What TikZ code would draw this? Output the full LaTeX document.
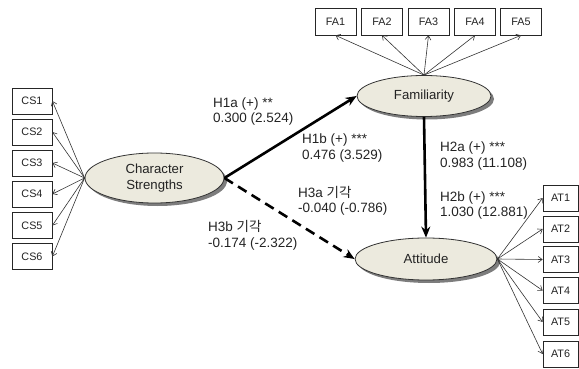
\documentclass[tikz,border=0pt]{standalone}
\usepackage{fontspec}
\setmainfont{Liberation Sans}
\newfontfamily\krfont{Noto Sans CJK KR}
\usetikzlibrary{shapes.geometric,shadows,arrows.meta}
\definecolor{efill}{RGB}{236,234,222}
\definecolor{tcol}{RGB}{35,35,35}
\begin{document}
\begin{tikzpicture}[x=1pt,y=-1pt,
  ind/.style={draw=black!85,line width=0.7pt,fill=white,minimum width=40pt,minimum height=26pt,inner sep=0pt,font=\fontsize{10.8}{12}\selectfont,text=tcol},
  lat/.style={ellipse,draw=black!80,line width=0.8pt,fill=efill,inner sep=0pt,align=center,
    font=\fontsize{13.2}{15.5}\selectfont,text=tcol,
    drop shadow={shadow xshift=3pt,shadow yshift=-3pt,fill=black!60,opacity=0.85}},
  thin/.style={draw=black!80,line width=0.6pt,-{Straight Barb[length=4pt,width=6pt]}},
  main/.style={line width=2.6pt,-{Stealth[length=11pt,width=9pt]}},
  lbl/.style={anchor=base west,inner sep=0pt,font=\fontsize{13.5}{15}\selectfont,text=tcol}]
\useasboundingbox (0,0) rectangle (579,369);
% indicators
\foreach \i/\y in {1/101,2/132,3/163,4/194,5/225.5,6/256.5}{
  \node[ind] (cs\i) at (32,\y) {CS\i};}
\foreach \i/\x in {1/335.5,2/382,3/428.5,4/475,5/521}{
  \node[ind,minimum width=41pt,minimum height=27pt] (fa\i) at (\x,21.5) {FA\i};}
\foreach \i/\y in {1/198,2/229,3/259.5,4/290.5,5/322,6/354}{
  \node[ind,minimum width=35pt] (at\i) at (560.5,\y) {AT\i};}
% latent
\node[lat,minimum width=139pt,minimum height=50pt] (cs) at (154.5,178) {Character\\Strengths};
\node[lat,minimum width=134pt,minimum height=41pt] (fam) at (424,96) {Familiarity};
\node[lat,minimum width=142pt,minimum height=42pt] (att) at (426,259) {Attitude};
% measurement arrows
\foreach \i in {1,...,6}{\draw[thin] (cs.west) -- (cs\i.east);}
\foreach \i in {1,...,5}{\draw[thin] (fam.north) -- (fa\i.south);}
\foreach \i in {1,...,6}{\draw[thin] (att.east) -- (at\i.west);}
% structural arrows
\draw[main] (cs.east) -- (fam.west);
\draw[main,dash pattern=on 10pt off 6pt] (cs.east) -- (att.west);
\draw[main] (fam.south) -- (att.north);
% labels
\node[lbl] (l1a) at (213,108) {H1a (+) **};
\node[lbl] (v1a) at (213,123) {0.300 (2.524)};
\node[lbl] (l1b) at (302,143) {H1b (+) ***};
\node[lbl] (v1b) at (302,159) {0.476 (3.529)};
\node[lbl] (l2a) at (440,151) {H2a (+) ***};
\node[lbl] (v2a) at (440,167) {0.983 (11.108)};
\node[lbl] (l2b) at (440,201) {H2b (+) ***};
\node[lbl] (v2b) at (440,216) {1.030 (12.881)};
\node[lbl] (l3a) at (298,197) {H3a {\krfont 기각}};
\node[lbl] (v3a) at (298,212) {-0.040 (-0.786)};
\node[lbl] (l3b) at (208,231) {H3b {\krfont 기각}};
\node[lbl] (v3b) at (208,247) {-0.174 (-2.322)};
\end{tikzpicture}
\end{document}
